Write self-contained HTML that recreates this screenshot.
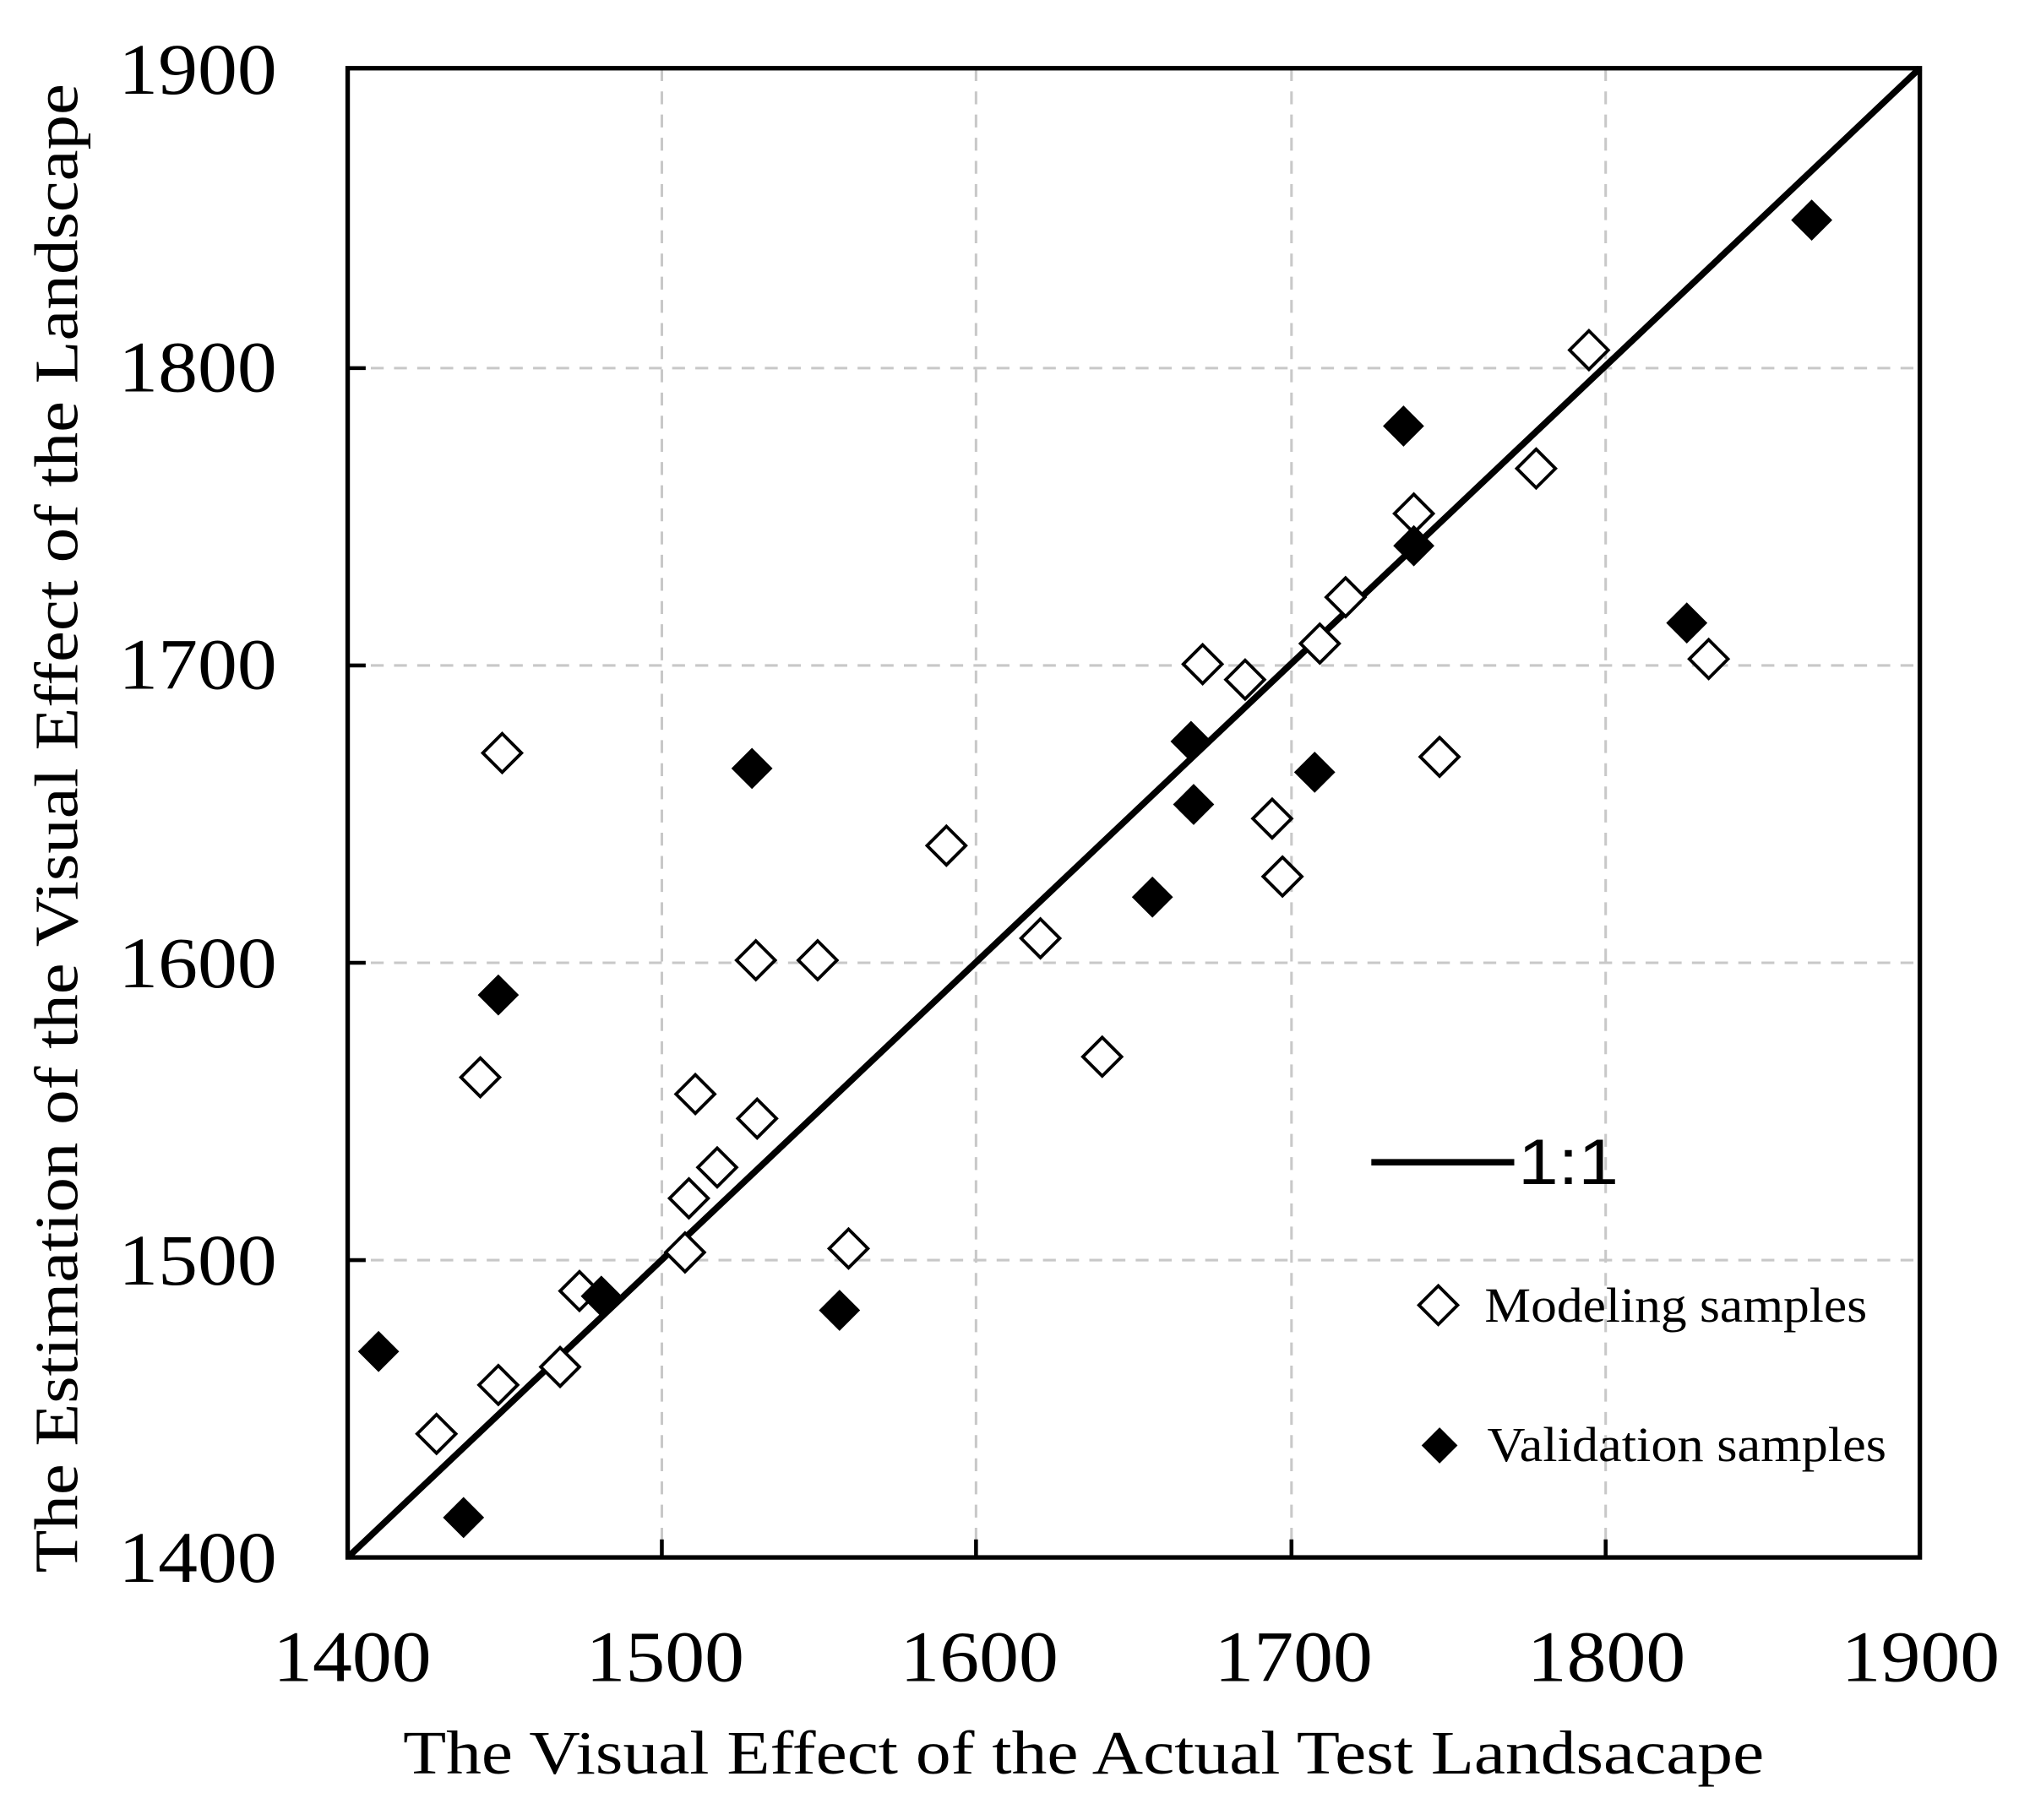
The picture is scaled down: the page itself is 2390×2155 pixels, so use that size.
<!DOCTYPE html>
<html><head><meta charset="utf-8"><style>html,body{margin:0;padding:0;background:#fff}svg{display:block}</style></head>
<body>
<svg width="2390" height="2155" viewBox="0 0 1568 1414" preserveAspectRatio="none" xmlns="http://www.w3.org/2000/svg">
<rect width="1568" height="1414" fill="#fff"/>
<g stroke="#c8c8c8" stroke-width="2" stroke-dasharray="10 8" fill="none">
<line x1="514" y1="53" x2="514" y2="1210"/><line x1="758" y1="53" x2="758" y2="1210"/><line x1="1003" y1="53" x2="1003" y2="1210"/><line x1="1247" y1="53" x2="1247" y2="1210"/>
<line x1="270" y1="979" x2="1491" y2="979"/><line x1="270" y1="748" x2="1491" y2="748"/><line x1="270" y1="517" x2="1491" y2="517"/><line x1="270" y1="286" x2="1491" y2="286"/>
</g>
<g stroke="#000" stroke-width="3">
<line x1="514" y1="1210" x2="514" y2="1196"/><line x1="758" y1="1210" x2="758" y2="1196"/><line x1="1003" y1="1210" x2="1003" y2="1196"/><line x1="1247" y1="1210" x2="1247" y2="1196"/>
<line x1="270" y1="979" x2="284" y2="979"/><line x1="270" y1="748" x2="284" y2="748"/><line x1="270" y1="517" x2="284" y2="517"/><line x1="270" y1="286" x2="284" y2="286"/>
</g>
<rect x="270" y="53" width="1221" height="1157" fill="none" stroke="#000" stroke-width="3.5"/>
<line x1="270" y1="1210" x2="1491" y2="53" stroke="#000" stroke-width="5"/>
<g fill="#fff" stroke="#000" stroke-width="2.5">
<path d="M0,-15L15,0L0,15L-15,0Z" transform="translate(390,585)"/>
<path d="M0,-15L15,0L0,15L-15,0Z" transform="translate(339,1114)"/>
<path d="M0,-15L15,0L0,15L-15,0Z" transform="translate(387,1076)"/>
<path d="M0,-15L15,0L0,15L-15,0Z" transform="translate(435,1062)"/>
<path d="M0,-15L15,0L0,15L-15,0Z" transform="translate(450,1003)"/>
<path d="M0,-15L15,0L0,15L-15,0Z" transform="translate(373,837)"/>
<path d="M0,-15L15,0L0,15L-15,0Z" transform="translate(532,973)"/>
<path d="M0,-15L15,0L0,15L-15,0Z" transform="translate(535,931)"/>
<path d="M0,-15L15,0L0,15L-15,0Z" transform="translate(540,850)"/>
<path d="M0,-15L15,0L0,15L-15,0Z" transform="translate(557,907)"/>
<path d="M0,-15L15,0L0,15L-15,0Z" transform="translate(588,869)"/>
<path d="M0,-15L15,0L0,15L-15,0Z" transform="translate(587,746)"/>
<path d="M0,-15L15,0L0,15L-15,0Z" transform="translate(635,746)"/>
<path d="M0,-15L15,0L0,15L-15,0Z" transform="translate(659,970)"/>
<path d="M0,-15L15,0L0,15L-15,0Z" transform="translate(735,657)"/>
<path d="M0,-15L15,0L0,15L-15,0Z" transform="translate(808,729)"/>
<path d="M0,-15L15,0L0,15L-15,0Z" transform="translate(856,821)"/>
<path d="M0,-15L15,0L0,15L-15,0Z" transform="translate(934,516)"/>
<path d="M0,-15L15,0L0,15L-15,0Z" transform="translate(967,528)"/>
<path d="M0,-15L15,0L0,15L-15,0Z" transform="translate(988,636)"/>
<path d="M0,-15L15,0L0,15L-15,0Z" transform="translate(996,681)"/>
<path d="M0,-15L15,0L0,15L-15,0Z" transform="translate(1025,500)"/>
<path d="M0,-15L15,0L0,15L-15,0Z" transform="translate(1045,464)"/>
<path d="M0,-15L15,0L0,15L-15,0Z" transform="translate(1098,399)"/>
<path d="M0,-15L15,0L0,15L-15,0Z" transform="translate(1118,588)"/>
<path d="M0,-15L15,0L0,15L-15,0Z" transform="translate(1193,364)"/>
<path d="M0,-15L15,0L0,15L-15,0Z" transform="translate(1234,272)"/>
<path d="M0,-15L15,0L0,15L-15,0Z" transform="translate(1327,512)"/>
<path d="M0,-15L15,0L0,15L-15,0Z" transform="translate(1117,1014)"/>
</g>
<g fill="#000">
<path d="M0,-16L16,0L0,16L-16,0Z" transform="translate(294,1050)"/>
<path d="M0,-16L16,0L0,16L-16,0Z" transform="translate(360,1179)"/>
<path d="M0,-16L16,0L0,16L-16,0Z" transform="translate(387,773)"/>
<path d="M0,-16L16,0L0,16L-16,0Z" transform="translate(467,1007)"/>
<path d="M0,-16L16,0L0,16L-16,0Z" transform="translate(584,597)"/>
<path d="M0,-16L16,0L0,16L-16,0Z" transform="translate(652,1018)"/>
<path d="M0,-16L16,0L0,16L-16,0Z" transform="translate(895,697)"/>
<path d="M0,-16L16,0L0,16L-16,0Z" transform="translate(925,576)"/>
<path d="M0,-16L16,0L0,16L-16,0Z" transform="translate(927,625)"/>
<path d="M0,-16L16,0L0,16L-16,0Z" transform="translate(1021,600)"/>
<path d="M0,-16L16,0L0,16L-16,0Z" transform="translate(1090,331)"/>
<path d="M0,-16L16,0L0,16L-16,0Z" transform="translate(1098,424)"/>
<path d="M0,-16L16,0L0,16L-16,0Z" transform="translate(1310,484)"/>
<path d="M0,-16L16,0L0,16L-16,0Z" transform="translate(1407,171)"/>
<path d="M0,-14L14,0L0,14L-14,0Z" transform="translate(1118,1123)"/>
</g>
<g font-family="'Liberation Serif',serif" font-size="56" fill="#000" lengthAdjust="spacingAndGlyphs">
<text x="92" y="73" textLength="123" lengthAdjust="spacingAndGlyphs">1900</text>
<text x="92" y="304" textLength="123" lengthAdjust="spacingAndGlyphs">1800</text>
<text x="92" y="535" textLength="123" lengthAdjust="spacingAndGlyphs">1700</text>
<text x="92" y="767" textLength="123" lengthAdjust="spacingAndGlyphs">1600</text>
<text x="92" y="998" textLength="123" lengthAdjust="spacingAndGlyphs">1500</text>
<text x="92" y="1229" textLength="123" lengthAdjust="spacingAndGlyphs">1400</text>
<text x="212" y="1306" textLength="123" lengthAdjust="spacingAndGlyphs">1400</text>
<text x="455" y="1306" textLength="123" lengthAdjust="spacingAndGlyphs">1500</text>
<text x="699" y="1306" textLength="123" lengthAdjust="spacingAndGlyphs">1600</text>
<text x="943" y="1306" textLength="123" lengthAdjust="spacingAndGlyphs">1700</text>
<text x="1186" y="1306" textLength="123" lengthAdjust="spacingAndGlyphs">1800</text>
<text x="1430" y="1306" textLength="123" lengthAdjust="spacingAndGlyphs">1900</text>
</g>
<text x="313" y="1378" font-family="'Liberation Serif',serif" font-size="48" fill="#000" textLength="1057" lengthAdjust="spacingAndGlyphs">The Visual Effect of the Actual Test Landsacape</text>
<text transform="translate(60,1222) rotate(-90)" font-family="'Liberation Serif',serif" font-size="48" fill="#000" textLength="1157" lengthAdjust="spacingAndGlyphs">The Estimation of the Visual Effect of the Landscape</text>
<line x1="1065" y1="903" x2="1176" y2="903" stroke="#000" stroke-width="5"/>
<text x="1179" y="920" font-family="'Liberation Sans',sans-serif" font-size="50" fill="#000" textLength="78" lengthAdjust="spacingAndGlyphs">1:1</text>
<text x="1153" y="1027" font-family="'Liberation Serif',serif" font-size="38" fill="#000" textLength="297" lengthAdjust="spacingAndGlyphs">Modeling samples</text>
<text x="1155" y="1135" font-family="'Liberation Serif',serif" font-size="38" fill="#000" textLength="310" lengthAdjust="spacingAndGlyphs">Validation samples</text>
</svg>
</body></html>
